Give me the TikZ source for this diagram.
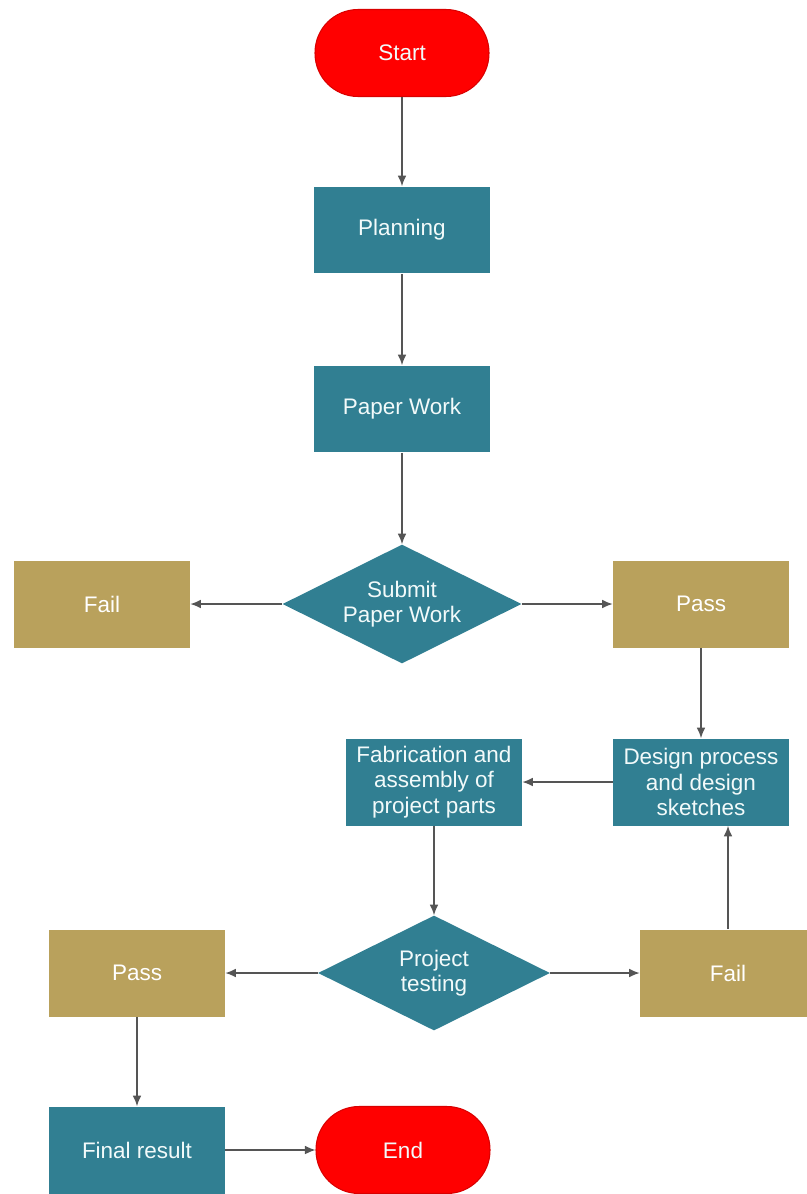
\documentclass[tikz,border=0pt]{standalone}
\usepackage{fontspec}
\setmainfont{Liberation Sans}
\usetikzlibrary{arrows.meta, positioning, shapes.geometric}
\definecolor{procteal}{HTML}{317F92}
\definecolor{resgold}{HTML}{B9A15C}
\definecolor{termred}{HTML}{FF0000}
\definecolor{linegray}{HTML}{555555}
\definecolor{txtlight}{HTML}{F2FAFA}

\tikzset{
  box/.style={rectangle, minimum width=3.52cm, minimum height=1.74cm,
    inner sep=2pt, align=center, text=txtlight,
    font=\fontsize{12.8}{14.4}\selectfont},
  procbox/.style={box, fill=procteal},
  resbox/.style={box, fill=resgold, text=white},
  termbox/.style={box, fill=termred, draw=termred!85!black, line width=0.6pt,
    rounded corners=0.86cm, minimum width=3.48cm},
  decide/.style={diamond, fill=procteal, inner sep=0pt, aspect=2,
    align=center, text=txtlight, font=\fontsize{12.8}{14.4}\selectfont},
  flow/.style={-{Latex[length=6pt, width=5pt]}, linegray, line width=0.8pt}
}

\begin{document}
\begin{tikzpicture}[x=0.02cm, y=-0.02cm]

% Canvas
\useasboundingbox (0,0) rectangle (807,1194);
\clip (0,0) rectangle (807,1194);

% --- Main column ---
\node[termbox] (start) at (402,53) {Start};
\node[procbox] (plan) at (402,230) {Planning};
\node[procbox] (paper) at (402,409) {Paper Work};
\node[decide, minimum width=4.78cm, minimum height=2.38cm] (submit) at (402,604)
  {Submit\\Paper Work};

% --- First decision results ---
\node[resbox] (failA) at (102,604) {Fail};
\node[resbox] (passA) at (701,604) {Pass};

% --- Design / fabrication ---
\node[procbox] (design) at (701,782) {Design process\\and design\\sketches};
\node[procbox] (fab) at (434,782) {Fabrication and\\assembly of\\project parts};

% --- Second decision ---
\node[decide, minimum width=4.64cm, minimum height=2.30cm] (test) at (434,973)
  {Project\\testing};
\node[resbox] (passB) at (137,973) {Pass};
\node[resbox] (failB) at (728,973) {Fail};

% --- Finish ---
\node[procbox] (final) at (137,1150) {Final result};
\node[termbox] (end) at (403,1150) {End};

% --- Connectors ---
\draw[flow] (start) -- (plan);
\draw[flow] (plan) -- (paper);
\draw[flow] (paper) -- (submit);
\draw[flow] (submit.west) -- (failA);
\draw[flow] (submit.east) -- (passA);
\draw[flow] (passA) -- (design);
\draw[flow] (design) -- (fab);
\draw[flow] (fab.south -| test.north) -- (test.north);
\draw[flow] (test.west) -- (passB);
\draw[flow] (test.east) -- (failB);
\draw[flow] (failB.north) -- (failB.north |- design.south);
\draw[flow] (passB) -- (final);
\draw[flow] (final) -- (end);

\end{tikzpicture}
\end{document}
